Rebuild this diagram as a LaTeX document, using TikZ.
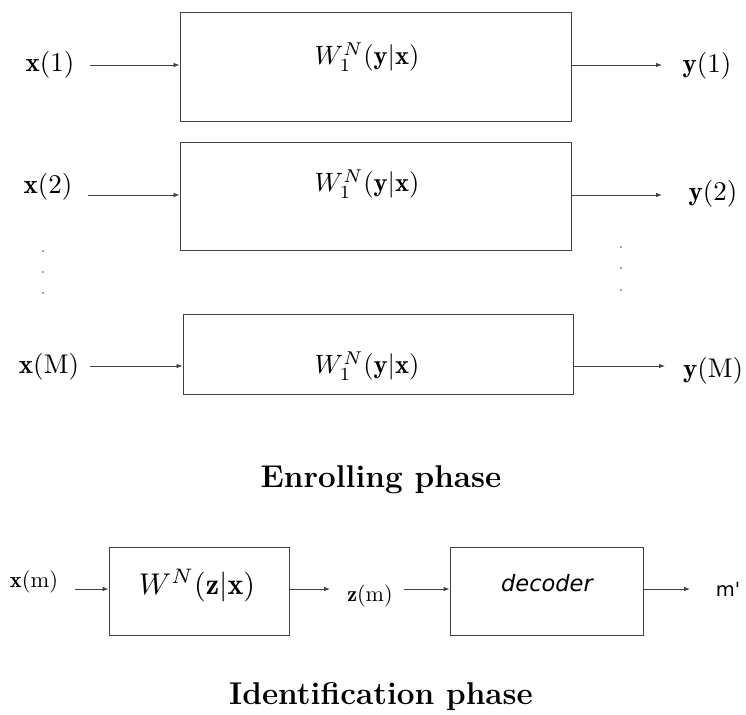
\documentclass[tikz,border=0pt]{standalone}
\usepackage{amsmath}
\usepackage{fontspec}
\newfontfamily\dejasans{DejaVu Sans}
\usetikzlibrary{arrows.meta}
\begin{document}
\begin{tikzpicture}[x=1pt,y=-1pt,
  blk/.style={draw=black!75,line width=0.9pt,inner sep=0pt},
  lbl/.style={inner sep=0pt},
  arr/.style={draw=black!75,line width=0.8pt,-{Latex[length=6pt,width=4.5pt]}},
  ttl/.style={inner sep=0pt,font=\fontsize{31.5}{36}\selectfont\bfseries},
  dotn/.style={circle,fill=black!70,inner sep=0pt,minimum size=1.6pt}]
\useasboundingbox (0,0) rectangle (746,714);
% enrolling boxes
\node[blk,minimum width=391pt,minimum height=109pt] (b1) at (375.5,66.5) {};
\node[blk,minimum width=391pt,minimum height=108pt] (b2) at (375.5,196) {};
\node[blk,minimum width=390pt,minimum height=80pt] (b3) at (378,354) {};
\node[lbl] (w1) at (367,57) {\scalebox{2.65}{$W_1^N(\mathbf{y}|\mathbf{x})$}};
\node[lbl] (w2) at (367,184) {\scalebox{2.65}{$W_1^N(\mathbf{y}|\mathbf{x})$}};
\node[lbl] (w3) at (367,366) {\scalebox{2.65}{$W_1^N(\mathbf{y}|\mathbf{x})$}};
% inputs
\node[lbl] (x1) at (50,65) {\scalebox{2.7}{$\mathbf{x}(1)$}};
\node[lbl] (x2) at (48,187) {\scalebox{2.7}{$\mathbf{x}(2)$}};
\node[lbl] (xM) at (49,367) {\scalebox{2.7}{$\mathbf{x}(\mathrm{M})$}};
\coordinate (s1) at (90,65);
\coordinate (s2) at (88,195);
\coordinate (sM) at (90,366);
\draw[arr] (s1) -- (s1 -| b1.west);
\draw[arr] (s2) -- (s2 -| b2.west);
\draw[arr] (sM) -- (sM -| b3.west);
% outputs
\node[lbl] (y1) at (707,66) {\scalebox{2.7}{$\mathbf{y}(1)$}};
\node[lbl] (y2) at (713,194) {\scalebox{2.7}{$\mathbf{y}(2)$}};
\node[lbl] (yM) at (713,371) {\scalebox{2.7}{$\mathbf{y}(\mathrm{M})$}};
\coordinate (e1) at (662,65);
\coordinate (e2) at (662,195);
\coordinate (eM) at (665,366);
\draw[arr] (e1 -| b1.east) -- (e1);
\draw[arr] (e2 -| b2.east) -- (e2);
\draw[arr] (eM -| b3.east) -- (eM);
% dots
\node[dotn] (dl1) at (43,251) {};
\node[dotn] (dl2) at (43,272) {};
\node[dotn] (dl3) at (43,293) {};
\node[dotn] (dr1) at (621,247) {};
\node[dotn] (dr2) at (621,268) {};
\node[dotn] (dr3) at (621,290) {};
\node[ttl] (t1) at (381,480) {Enrolling phase};
% identification
\node[lbl] (xm) at (34,582) {\scalebox{2.25}{$\mathbf{x}(\mathrm{m})$}};
\node[blk,minimum width=180pt,minimum height=88pt] (bw) at (199,591) {};
\node[lbl] (wz) at (197,586) {\scalebox{3.0}{$W^N(\mathbf{z}|\mathbf{x})$}};
\node[lbl] (zm) at (370,596) {\scalebox{2.2}{$\mathbf{z}(\mathrm{m})$}};
\node[blk,minimum width=193pt,minimum height=88pt] (bd) at (546.5,591) {};
\node[lbl,font=\fontsize{22.5}{26}\dejasans\itshape] (dec) at (547,583) {decoder};
\node[lbl,font=\fontsize{19.5}{23}\dejasans] (mp) at (728,589) {m'};
\coordinate (p1) at (75,589);
\coordinate (p2) at (330,589);
\coordinate (p3) at (404,589);
\coordinate (p4) at (690,589);
\draw[arr] (p1) -- (p1 -| bw.west);
\draw[arr] (p2 -| bw.east) -- (p2);
\draw[arr] (p3) -- (p3 -| bd.west);
\draw[arr] (p4 -| bd.east) -- (p4);
\node[ttl] (t2) at (381,697) {Identification phase};
\end{tikzpicture}
\end{document}
